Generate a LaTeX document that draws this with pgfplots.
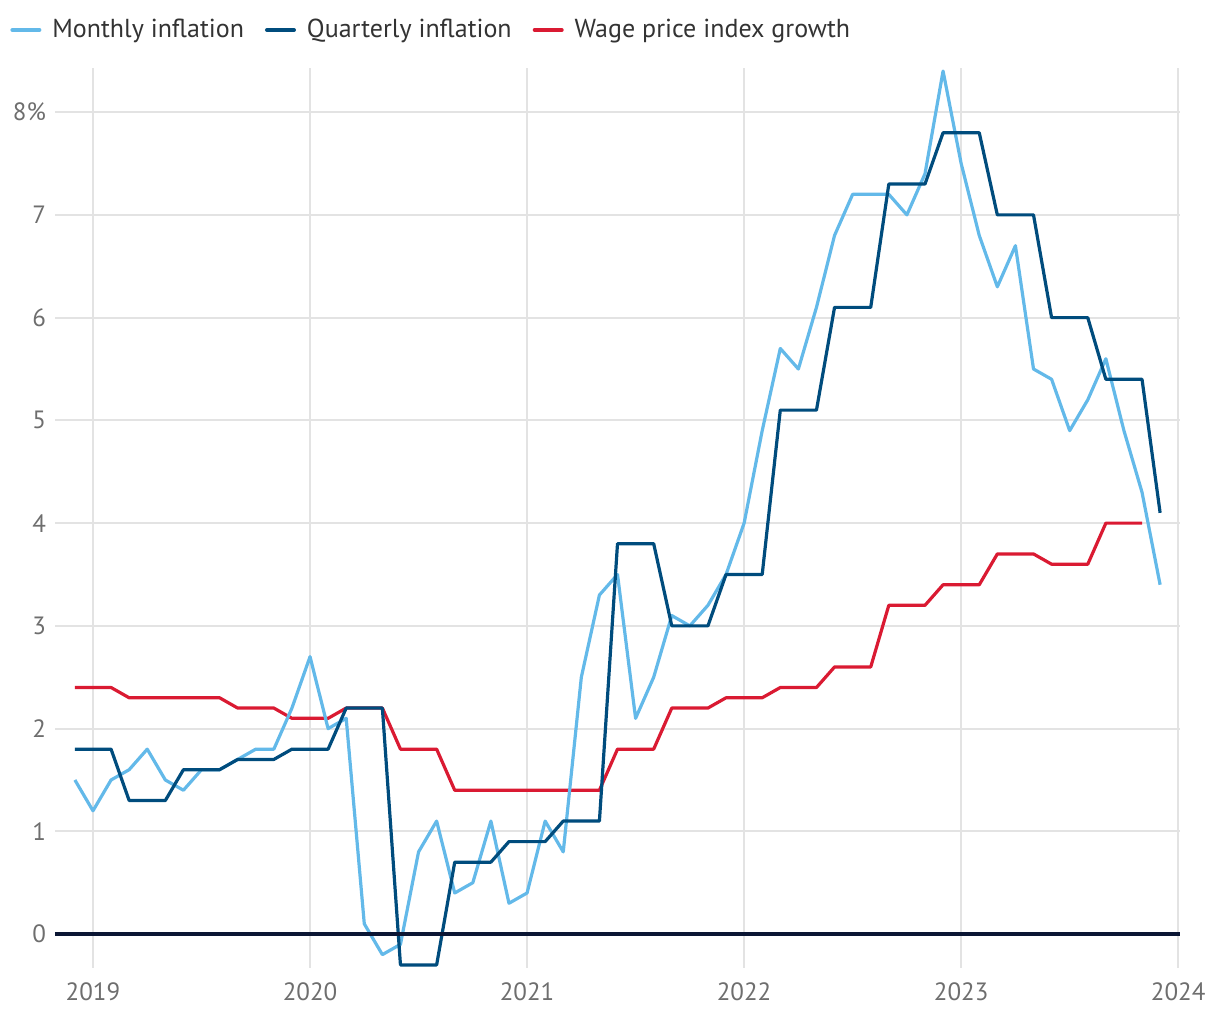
\documentclass[border=0pt]{standalone}
\usepackage{pgfplots}
\pgfplotsset{compat=1.18}
\usepackage{fontspec}
\setmainfont{PT Sans}
\definecolor{monthly}{HTML}{63B9E9}
\definecolor{quarterly}{HTML}{004C7D}
\definecolor{wage}{HTML}{DA1A32}
\definecolor{zeroline}{HTML}{0B1634}
\definecolor{gridgray}{HTML}{E3E3E3}
\definecolor{ticktext}{HTML}{6E6E6E}
\definecolor{legtext}{HTML}{333333}

\pgfplotstableread{
m v
-1 1.5
0 1.2
1 1.5
2 1.6
3 1.8
4 1.5
5 1.4
6 1.6
7 1.6
8 1.7
9 1.8
10 1.8
11 2.2
12 2.7
13 2.0
14 2.1
15 0.1
16 -0.2
17 -0.1
18 0.8
19 1.1
20 0.4
21 0.5
22 1.1
23 0.3
24 0.4
25 1.1
26 0.8
27 2.5
28 3.3
29 3.5
30 2.1
31 2.5
32 3.1
33 3.0
34 3.2
35 3.5
36 4.0
37 4.9
38 5.7
39 5.5
40 6.1
41 6.8
42 7.2
43 7.2
44 7.2
45 7.0
46 7.4
47 8.4
48 7.5
49 6.8
50 6.3
51 6.7
52 5.5
53 5.4
54 4.9
55 5.2
56 5.6
57 4.9
58 4.3
59 3.4
}\monthlytab

\pgfplotstableread{
m v
-1 1.8
0 1.8
1 1.8
2 1.3
3 1.3
4 1.3
5 1.6
6 1.6
7 1.6
8 1.7
9 1.7
10 1.7
11 1.8
12 1.8
13 1.8
14 2.2
15 2.2
16 2.2
17 -0.3
18 -0.3
19 -0.3
20 0.7
21 0.7
22 0.7
23 0.9
24 0.9
25 0.9
26 1.1
27 1.1
28 1.1
29 3.8
30 3.8
31 3.8
32 3.0
33 3.0
34 3.0
35 3.5
36 3.5
37 3.5
38 5.1
39 5.1
40 5.1
41 6.1
42 6.1
43 6.1
44 7.3
45 7.3
46 7.3
47 7.8
48 7.8
49 7.8
50 7.0
51 7.0
52 7.0
53 6.0
54 6.0
55 6.0
56 5.4
57 5.4
58 5.4
59 4.1
}\quarterlytab

\pgfplotstableread{
m v
-1 2.4
0 2.4
1 2.4
2 2.3
3 2.3
4 2.3
5 2.3
6 2.3
7 2.3
8 2.2
9 2.2
10 2.2
11 2.1
12 2.1
13 2.1
14 2.2
15 2.2
16 2.2
17 1.8
18 1.8
19 1.8
20 1.4
21 1.4
22 1.4
23 1.4
24 1.4
25 1.4
26 1.4
27 1.4
28 1.4
29 1.8
30 1.8
31 1.8
32 2.2
33 2.2
34 2.2
35 2.3
36 2.3
37 2.3
38 2.4
39 2.4
40 2.4
41 2.6
42 2.6
43 2.6
44 3.2
45 3.2
46 3.2
47 3.4
48 3.4
49 3.4
50 3.7
51 3.7
52 3.7
53 3.6
54 3.6
55 3.6
56 4.0
57 4.0
58 4.0
}\wagetab

\begin{document}
\begin{tikzpicture}
\begin{axis}[
  scale only axis,
  width=562.5pt, height=450pt,
  xmin=-2.1, xmax=60.1,
  ymin=-0.33, ymax=8.43,
  clip=false,
  axis line style={draw=none},
  major tick length=0pt,
  tick style={draw=none},
  xtick={0,12,24,36,48,60},
  xticklabels={2019,2020,2021,2022,2023,2024},
  ytick={0,1,2,3,4,5,6,7,8},
  yticklabels={0,1,2,3,4,5,6,7,8\%},
  /pgf/number format/assume math mode=true,
  grid=major,
  major grid style={gridgray, line width=1pt},
  ticklabel style={font=\fontsize{12.5}{15}\selectfont, text=ticktext},
  xticklabel style={yshift=-4pt},
  yticklabel style={xshift=-1pt},
  legend columns=-1,
  legend cell align=left,
  legend style={at={(0,1)}, anchor=west, xshift=-22.5pt, yshift=19pt,
    draw=none, fill=none, inner sep=0pt,
    font=\fontsize{13}{16}\selectfont, text=legtext,
    /tikz/every odd column/.append style={column sep=3.5pt},
    /tikz/every even column/.append style={column sep=8.5pt}},
  legend image code/.code={\draw[#1, line width=2pt, line cap=round] (1pt,0pt) -- (14.5pt,0pt);},
  every axis plot/.append style={line width=1.6pt, line join=round},
]
\addlegendimage{monthly}
\addlegendentry{Monthly inflation}
\addlegendimage{quarterly}
\addlegendentry{Quarterly inflation}
\addlegendimage{wage}
\addlegendentry{Wage price index growth}

\addplot[wage, forget plot] table[x=m, y=v] {\wagetab};
\addplot[monthly, forget plot] table[x=m, y=v] {\monthlytab};
\addplot[quarterly, forget plot] table[x=m, y=v] {\quarterlytab};
\addplot[zeroline, line width=2pt, forget plot] coordinates {(-2.1,0) (60.1,0)};
\end{axis}
\pgfresetboundingbox
\path[use as bounding box] (-27.5pt,-26pt) rectangle (582.5pt,484pt);
\end{tikzpicture}
\end{document}
